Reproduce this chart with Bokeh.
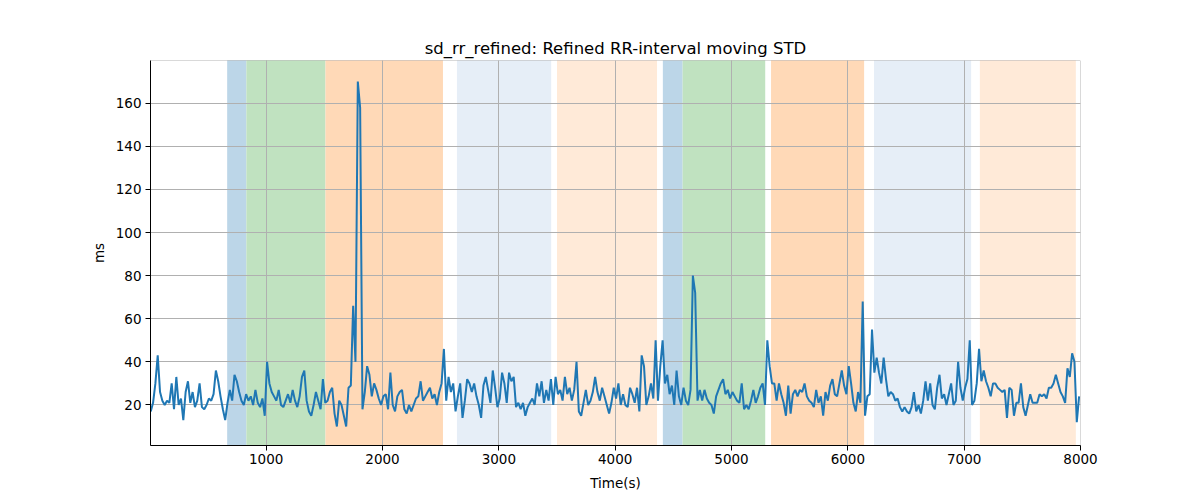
from bokeh.plotting import figure
from bokeh.models import Range1d, FixedTicker, BoxAnnotation
from bokeh.embed import file_html
from bokeh.resources import INLINE

# moving-STD series: first sample time and spacing (s)
t_start = 8
t_step = 20

# refined RR-interval moving STD (ms), one value per sample
sd_rr = [
    17, 21, 30, 43, 26, 22, 20, 22, 21, 30, 18, 33, 20, 23, 13, 26, 31, 21, 26, 19, 22, 30, 19, 18, 20,
    23, 22, 25, 36, 31, 24, 18, 13, 21, 27, 22, 34, 31, 26, 22, 20, 25, 22, 24, 20, 27, 21, 19, 23, 15,
    40, 30, 26, 24, 22, 27, 20, 19, 22, 25, 21, 27, 22, 19, 24, 33, 36, 22, 17, 15, 20, 26, 22, 18, 32,
    21, 22, 26, 28, 16, 10, 22, 20, 15, 10, 28, 29, 66, 40, 170, 158, 18, 26, 38, 34, 24, 30, 27, 23, 20,
    24, 25, 18, 35, 20, 17, 24, 26, 27, 18, 16, 20, 17, 20, 23, 24, 31, 22, 24, 26, 28, 23, 25, 20, 26,
    30, 46, 22, 33, 26, 30, 17, 24, 30, 14, 22, 32, 30, 26, 30, 24, 20, 14, 29, 33, 27, 21, 36, 28, 19,
    23, 35, 30, 21, 35, 31, 33, 19, 21, 18, 21, 15, 19, 21, 23, 20, 30, 24, 31, 21, 27, 22, 32, 20, 33,
    25, 27, 22, 33, 25, 28, 22, 27, 40, 17, 15, 21, 27, 20, 22, 26, 33, 26, 22, 28, 24, 20, 16, 21, 28,
    23, 30, 20, 25, 20, 19, 28, 25, 21, 28, 17, 43, 38, 20, 24, 30, 23, 50, 22, 38, 50, 30, 34, 25, 29,
    20, 36, 24, 20, 28, 22, 20, 27, 80, 72, 22, 27, 22, 27, 23, 21, 20, 16, 24, 27, 30, 32, 25, 27, 23,
    26, 24, 22, 21, 30, 18, 20, 18, 22, 27, 21, 24, 28, 30, 20, 50, 38, 30, 30, 22, 30, 25, 21, 15, 29,
    16, 25, 27, 24, 27, 26, 30, 24, 22, 21, 19, 27, 21, 24, 15, 26, 22, 29, 32, 25, 24, 30, 36, 29, 25,
    38, 30, 21, 17, 26, 21, 68, 15, 24, 25, 55, 35, 42, 35, 30, 42, 32, 24, 26, 25, 22, 23, 19, 17, 19,
    17, 16, 19, 26, 17, 20, 16, 22, 31, 22, 30, 20, 18, 28, 34, 23, 25, 20, 25, 30, 20, 22, 40, 28, 22,
    28, 32, 50, 20, 22, 30, 46, 31, 36, 31, 28, 24, 30, 30, 28, 27, 26, 27, 14, 28, 27, 15, 21, 21, 30,
    19, 15, 20, 25, 21, 21, 21, 25, 24, 25, 23, 28, 28, 30, 34, 30, 26, 24, 21, 37, 33, 44, 40, 12, 24,
]

# shaded phases (s)
seg_start = [665, 830, 1510, 2640, 3500, 4410, 4580, 5340, 6225, 7135]
seg_end = [830, 1510, 2520, 3450, 4360, 4580, 5290, 6140, 7060, 7960]
seg_kind = ["blue", "green", "orange", "lightblue", "lightorange",
            "blue", "green", "orange", "lightblue", "lightorange"]

x_ticks = [1000, 2000, 3000, 4000, 5000, 6000, 7000, 8000]
y_ticks = [20, 40, 60, 80, 100, 120, 140, 160]

# span colours (already blended with white like alpha 0.3)
kind_color = {
    "blue": "#bcd6e8",
    "green": "#c0e2c0",
    "orange": "#ffd9b7",
    "lightblue": "#e6eef7",
    "lightorange": "#ffead8",
}

times = [t_start + i * t_step for i in range(len(sd_rr))]

p = figure(width=1192, height=495, output_backend="svg", toolbar_location=None,
           x_range=Range1d(6, 8000), y_range=Range1d(1.2, 179.8),
           min_border_left=150, min_border_right=112, min_border_top=60, min_border_bottom=50,
           title="sd_rr_refined: Refined RR-interval moving STD")

p.title.align = "center"
p.title.text_font = "DejaVu Sans"
p.title.text_font_size = "16.5px"
p.title.text_font_style = "normal"
p.title.text_color = "black"
p.title.standoff = 6

p.background_fill_color = "white"
p.border_fill_color = "white"
p.outline_line_color = None

# phase shading, kept under the grid
spans = p.quad(left=seg_start, right=seg_end, bottom=-1000, top=1000,
               fill_color=[kind_color[k] for k in seg_kind], line_color=None)
spans.level = "image"

p.line(times, sd_rr, line_color="#1f77b4", line_width=2)

# axes frame on top of everything
p.add_layout(BoxAnnotation(fill_alpha=0, line_color="black", line_width=1, level="overlay"))

for ax in (p.xaxis, p.yaxis):
    ax.major_tick_in = 0
    ax.major_tick_out = 5
    ax.minor_tick_line_color = None
    ax.axis_line_color = "black"
    ax.major_tick_line_color = "black"
    ax.major_label_text_font = "DejaVu Sans"
    ax.major_label_text_font_size = "13.5px"
    ax.major_label_text_color = "black"
    ax.axis_label_text_font = "DejaVu Sans"
    ax.axis_label_text_font_size = "13.5px"
    ax.axis_label_text_font_style = "normal"
    ax.axis_label_text_color = "black"

p.xaxis.ticker = FixedTicker(ticks=x_ticks)
p.yaxis.ticker = FixedTicker(ticks=y_ticks)
p.xaxis.axis_label = "Time(s)"
p.yaxis.axis_label = "ms"
p.xaxis.major_label_standoff = 3
p.yaxis.major_label_standoff = 4
p.xaxis.axis_label_standoff = 8
p.yaxis.axis_label_standoff = 6

p.xgrid.ticker = FixedTicker(ticks=x_ticks)
p.ygrid.ticker = FixedTicker(ticks=y_ticks)
p.grid.grid_line_color = "#b0b0b0"
p.grid.grid_line_width = 1

open("out.html", "w").write(file_html(p, INLINE))
